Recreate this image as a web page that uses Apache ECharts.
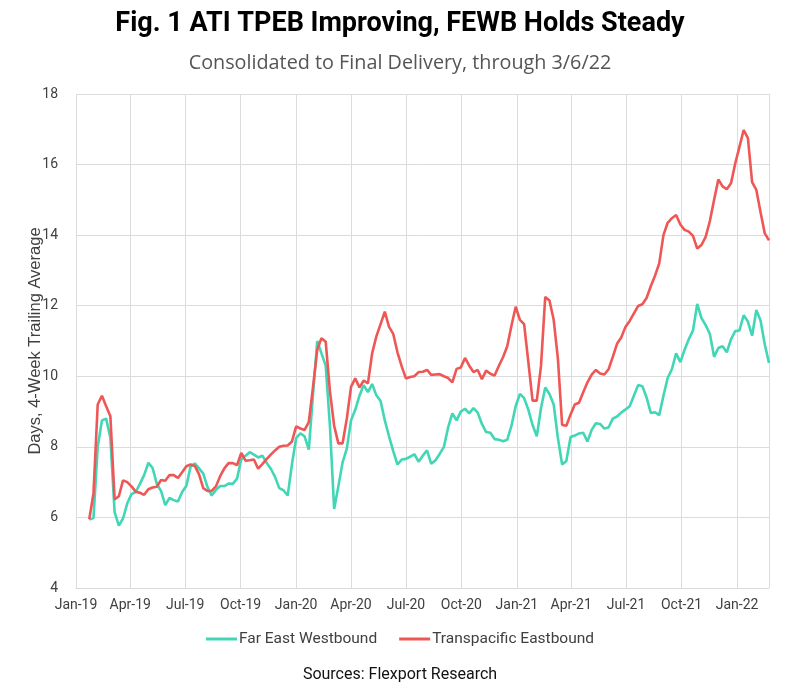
<!DOCTYPE html>
<html>
<head>
<meta charset="UTF-8">
<script src="https://cdn.jsdelivr.net/npm/echarts@6/dist/echarts.min.js"></script>
<style>
  html, body { margin: 0; padding: 0; background: #fff; }
  #chart { width: 800px; height: 686px; }
</style>
</head>
<body>
<div id="chart"></div>
<script>
// weekly readings, first week 2019-01-23
var startDate = Date.UTC(2019, 0, 23);
var seriesNames = ['Far East Westbound', 'Transpacific Eastbound'];
var monthNames = ['Jan', 'Feb', 'Mar', 'Apr', 'May', 'Jun', 'Jul', 'Aug', 'Sep', 'Oct', 'Nov', 'Dec'];

var fewb = [
  5.94, 5.98, 8.0, 8.75, 8.8, 8.25, 6.15, 5.77, 5.97, 6.4,
  6.66, 6.72, 6.95, 7.2, 7.55, 7.4, 6.95, 6.75, 6.35, 6.55,
  6.49, 6.45, 6.72, 6.9, 7.44, 7.53, 7.39, 7.24, 6.86, 6.62,
  6.78, 6.89, 6.89, 6.96, 6.95, 7.1, 7.65, 7.75, 7.85, 7.78,
  7.7, 7.75, 7.55, 7.38, 7.15, 6.83, 6.77, 6.62, 7.5, 8.25,
  8.38, 8.3, 7.92, 9.5, 11.0, 10.65, 10.3, 8.6, 6.24, 6.88,
  7.56, 7.95, 8.75, 9.05, 9.45, 9.75, 9.55, 9.78, 9.46, 9.3,
  8.75, 8.3, 7.88, 7.5, 7.64, 7.66, 7.72, 7.79, 7.58, 7.75,
  7.9, 7.52, 7.62, 7.8, 8.0, 8.55, 8.95, 8.75, 9.0, 9.08,
  8.95, 9.1, 8.97, 8.65, 8.42, 8.4, 8.22, 8.2, 8.16, 8.2,
  8.6, 9.15, 9.5, 9.38, 9.05, 8.62, 8.3, 9.1, 9.68, 9.5,
  9.2, 8.25, 7.5, 7.6, 8.28, 8.32, 8.38, 8.4, 8.15, 8.48,
  8.67, 8.65, 8.52, 8.55, 8.8, 8.86, 8.97, 9.06, 9.15, 9.45,
  9.75, 9.72, 9.4, 8.96, 8.98, 8.9, 9.45, 9.95, 10.2, 10.65,
  10.4, 10.75, 11.05, 11.3, 12.05, 11.65, 11.45, 11.2, 10.55, 10.8,
  10.85, 10.68, 11.05, 11.28, 11.3, 11.73, 11.55, 11.15, 11.88, 11.58,
  10.9, 10.38
];

var tpeb = [
  5.95, 6.68, 9.2, 9.45, 9.15, 8.87, 6.51, 6.6, 7.05, 7.0,
  6.88, 6.73, 6.7, 6.64, 6.8, 6.85, 6.87, 7.06, 7.04, 7.2,
  7.2, 7.12, 7.28, 7.45, 7.5, 7.46, 7.22, 6.83, 6.75, 6.75,
  6.88, 7.17, 7.39, 7.54, 7.54, 7.48, 7.83, 7.61, 7.62, 7.64,
  7.38, 7.51, 7.65, 7.78, 7.9, 8.0, 8.03, 8.04, 8.15, 8.58,
  8.52, 8.48, 8.7, 9.7, 10.75, 11.08, 10.98, 9.58, 8.6, 8.1,
  8.1, 8.8, 9.7, 9.94, 9.68, 9.88, 9.8, 10.65, 11.13, 11.48,
  11.83, 11.4, 11.2, 10.68, 10.28, 9.94, 9.98, 10.0, 10.12, 10.13,
  10.18, 10.04, 10.05, 10.06, 10.0, 9.95, 9.83, 10.21, 10.25, 10.52,
  10.3, 10.12, 10.18, 9.92, 10.16, 10.07, 10.02, 10.29, 10.54, 10.85,
  11.43, 11.97, 11.6, 11.48, 10.4, 9.31, 9.31, 10.3, 12.25, 12.15,
  11.6, 10.5, 8.62, 8.6, 8.92, 9.2, 9.25, 9.55, 9.83, 10.05,
  10.18, 10.08, 10.05, 10.2, 10.55, 10.92, 11.1, 11.4, 11.57, 11.78,
  11.99, 12.04, 12.22, 12.55, 12.85, 13.2, 14.0, 14.35, 14.48, 14.57,
  14.3, 14.15, 14.1, 13.98, 13.62, 13.72, 13.95, 14.4, 15.0, 15.58,
  15.38, 15.3, 15.47, 16.03, 16.5, 16.98, 16.75, 15.5, 15.28, 14.65,
  14.05, 13.85
];

var yTicks = { min: 4, max: 18, step: 2 };

function weekDate(i) {
  return startDate + i * 7 * 86400000;
}
function pairs(values) {
  return values.map(function (v, i) { return [weekDate(i), v]; });
}

var chart = echarts.init(document.getElementById('chart'));
var option = {
  useUTC: true,
  animation: false,
  backgroundColor: '#fff',
  title: {
    text: 'Fig. 1 ATI TPEB Improving, FEWB Holds Steady',
    subtext: 'Consolidated to Final Delivery, through 3/6/22',
    left: 'center',
    top: 6,
    itemGap: 15,
    textStyle: { fontFamily: 'Roboto', fontWeight: 'bold', fontSize: 27, color: '#000' },
    subtextStyle: { fontFamily: 'Open Sans', fontSize: 19.8, color: '#555' }
  },
  legend: {
    bottom: 34,
    left: 'center',
    icon: 'rect',
    itemWidth: 31,
    itemHeight: 3,
    itemGap: 22,
    textStyle: { fontFamily: 'Roboto', fontSize: 15.5, color: '#404040', padding: [0, 0, 0, -3] },
    data: seriesNames
  },
  graphic: [{
    type: 'text',
    left: 'center',
    top: 667,
    style: { text: 'Sources: Flexport Research', font: '16px Roboto', fill: '#111' }
  }],
  grid: { left: 76, right: 31, top: 94, bottom: 98, containLabel: false },
  xAxis: {
    type: 'time',
    min: Date.UTC(2019, 0, 1),
    max: weekDate(fewb.length - 1),
    minInterval: 91 * 86400000,
    maxInterval: 92 * 86400000,
    axisLine: { show: true, lineStyle: { color: '#d9d9d9' } },
    axisTick: { show: false },
    splitLine: { show: true, lineStyle: { color: '#dcdcdc', width: 1 } },
    axisLabel: {
      fontFamily: 'Roboto',
      fontSize: 14,
      color: '#404040',
      margin: 10,
      showMinLabel: true,
      showMaxLabel: false,
      formatter: function (val) {
        var d = new Date(val);
        if (d.getUTCDate() !== 1 || d.getUTCMonth() % 3 !== 0) return '';
        return monthNames[d.getUTCMonth()] + '-' + String(d.getUTCFullYear()).slice(2);
      }
    }
  },
  yAxis: {
    type: 'value',
    min: yTicks.min,
    max: yTicks.max,
    interval: yTicks.step,
    name: 'Days, 4-Week Trailing Average',
    nameLocation: 'middle',
    nameGap: 32,
    nameMoveOverlap: false,
    nameTextStyle: { fontFamily: 'Liberation Sans', fontSize: 16.5, color: '#404040' },
    axisLine: { show: false },
    axisTick: { show: false },
    axisLabel: { fontFamily: 'Roboto', fontSize: 14, color: '#404040', margin: 18 },
    splitLine: { lineStyle: { color: '#dcdcdc', width: 1 } }
  },
  series: [
    {
      name: seriesNames[0],
      type: 'line',
      data: pairs(fewb),
      showSymbol: false,
      lineStyle: { color: '#41d6b5', width: 2.6 },
      itemStyle: { color: '#41d6b5' }
    },
    {
      name: seriesNames[1],
      type: 'line',
      data: pairs(tpeb),
      showSymbol: false,
      lineStyle: { color: '#ef5656', width: 2.6 },
      itemStyle: { color: '#ef5656' }
    }
  ]
};
chart.setOption(option);
</script>
</body>
</html>
